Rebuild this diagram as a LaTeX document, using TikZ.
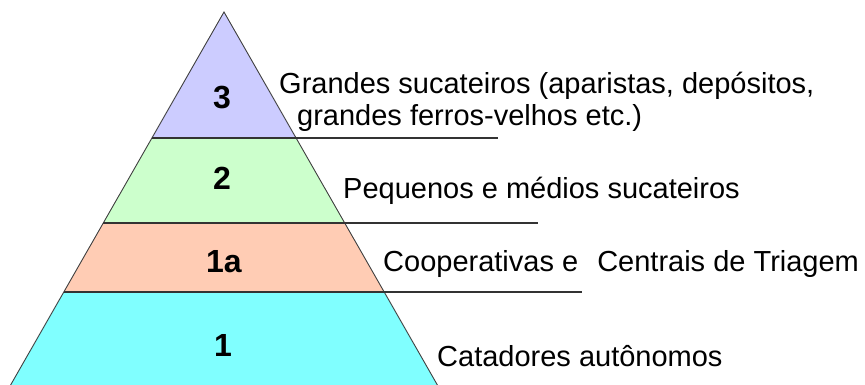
\documentclass[tikz,border=0pt]{standalone}
\usepackage{fontspec}
\setmainfont{Liberation Sans}
\newfontfamily\labfont{Liberation Sans}
\definecolor{lvl3}{RGB}{204,204,255}
\definecolor{lvl2}{RGB}{204,255,204}
\definecolor{lvl1a}{RGB}{255,204,180}
\definecolor{lvl1}{RGB}{128,255,255}
\definecolor{edge}{RGB}{64,64,64}
\tikzset{
  sideline/.style={draw=edge, line width=0.9pt},
  levelline/.style={draw=edge!80!black, line width=1.8pt},
  numlabel/.style={font=\labfont\fontsize{32}{36}\selectfont\bfseries, inner sep=0pt},
  desc/.style={font=\labfont\fontsize{29}{34}\selectfont, inner sep=0pt, anchor=base west}
}
\begin{document}
\begin{tikzpicture}[x=1pt,y=-1pt]
\useasboundingbox (0,0) rectangle (865,385);
\coordinate (apex) at (224,12);
\coordinate (l1) at (151.9,138); \coordinate (r1) at (296.1,138);
\coordinate (l2) at (103.3,223); \coordinate (r2) at (344.7,223);
\coordinate (l3) at (63.8,292);  \coordinate (r3) at (384.2,292);
\coordinate (l4) at (10.6,385);  \coordinate (r4) at (437.4,385);
% bands
\fill[lvl3] (apex) -- (r1) -- (l1) -- cycle;
\fill[lvl2] (l1) -- (r1) -- (r2) -- (l2) -- cycle;
\fill[lvl1a] (l2) -- (r2) -- (r3) -- (l3) -- cycle;
\fill[lvl1] (l3) -- (r3) -- (r4) -- (l4) -- cycle;
% sides
\draw[sideline] (l4) -- (apex) -- (r4);
% level lines
\coordinate (e1) at (498,138);
\coordinate (e2) at (538,223);
\coordinate (e3) at (582,292);
\draw[levelline] (l1) -- (e1);
\draw[levelline] (l2) -- (e2);
\draw[levelline] (l3) -- (e3);
% numbers
\node[numlabel] (n3) at (222,98) {3};
\node[numlabel] (n2) at (222,178) {2};
\node[numlabel] (n1a) at (224,262) {1a};
\node[numlabel] (n1) at (223,345) {1};
% descriptions
\node[desc] (t3a) at (279,94) {Grandes sucateiros (aparistas, depósitos,};
\node[desc] (t3b) at (297,126) {grandes ferros-velhos etc.)};
\node[desc] (t2) at (343,198) {Pequenos e médios sucateiros};
\node[desc] (t1a) at (383,271) {Cooperativas e\hspace{11pt} Centrais de Triagem};
\node[desc] (t1) at (437,366) {Catadores autônomos};
\end{tikzpicture}
\end{document}
